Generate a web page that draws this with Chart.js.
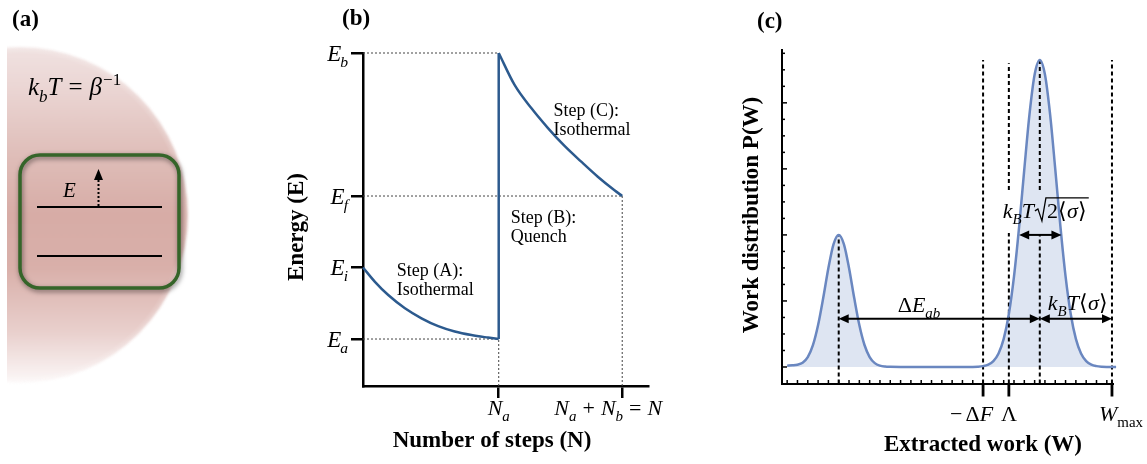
<!DOCTYPE html>
<html><head><meta charset="utf-8">
<script src="https://cdn.jsdelivr.net/npm/chart.js@4.4.1/dist/chart.umd.min.js"></script>
<style>
html,body{margin:0;padding:0;background:#fff;}
#wrap{position:relative;width:1147px;height:464px;overflow:hidden;background:#fff;}
canvas{position:absolute;left:0;top:0;}
</style></head><body>
<div id="wrap">
<canvas id="ca" width="1147" height="464"></canvas>
<canvas id="cb" width="1147" height="464"></canvas>
<canvas id="cc" width="1147" height="464"></canvas>
</div>
<script>
// ---------- Panel (b) data ----------
const stepAx = [0, 0.088, 0.186, 0.309, 0.431, 0.554, 0.676, 0.799, 0.921, 1.0];
const stepAy = [2.0, 1.80, 1.615, 1.43, 1.29, 1.18, 1.105, 1.055, 1.02, 1.0];
const stepCx = [1.0, 1.118, 1.240, 1.363, 1.485, 1.608, 1.730, 1.853, 1.91];
const stepCy = [5.0, 4.55, 4.23, 3.95, 3.70, 3.48, 3.27, 3.08, 3.0];
const energyTickVals = [1, 2, 3, 5];
const energyTickSubs = ['a', 'i', 'f', 'b'];
const stepTickVals = [1, 1.91];
const energyMin = 0.343, energyMax = 5, stepMax = 2.1;

// ---------- Panel (c) data ----------
const workX = [0,0.5,1,1.5,2,2.5,3,3.5,4,4.5,5,5.5,6,6.5,7,7.5,8,8.5,9,9.5,10,
  11,12,13,14,15,16,17,
  18,18.5,19,19.5,20,20.5,21,21.5,22,22.5,23,23.5,24,24.5,25,25.5,26,26.5,27,27.5,28,28.5,29,29.5,30,30.5,31,31.9];
const workP = [0.02,0.025,0.035,0.065,0.15,0.33,0.635,1.048,1.5,1.862,2.0,1.862,1.5,1.048,0.635,0.333,0.151,0.059,0.02,0.006,0.002,
  0,0,0,0,0,0,0,
  0.001,0.004,0.013,0.035,0.089,0.204,0.425,0.802,1.372,2.129,2.997,3.825,4.429,4.65,4.429,3.825,2.997,2.129,1.372,0.802,0.425,0.204,0.089,0.035,0.013,0.004,0.001,0];
const dashX    = [5,     19,    21.5,  21.5, 24.5,  24.5, 31.5];
const dashFrom = [-0.25, -0.25, -0.25, 2.68, -0.25, 2.68, -0.25];
const dashTo   = [2.0,   4.65,  2.03,  4.6,  2.0,   4.65, 4.65];
const majorWorkTicks = [19, 21.5, 31.5];
const arrowX0 = [5, 24.5, 22.5];
const arrowX1 = [24.5, 31.5, 26.6];
const arrowY  = [0.73, 0.73, 2.0];
const workMin = -0.5, workMax = 31.6, pMin = -0.25, pMax = 4.8;

// ---------- helpers ----------
const FAM = '"Liberation Serif","Times New Roman",Times,serif';
function rich(ctx, segs, x, y, size, align) {
  const items = segs.map(s => {
    const small = s.sub || s.sup;
    const sz = small ? size * 0.68 : size;
    const font = (s.it ? 'italic ' : '') + (s.b ? 'bold ' : '') + sz + 'px ' + FAM;
    ctx.font = font;
    const w = ctx.measureText(s.t).width;
    return { t: s.t, font, w, k: s.k || 0, ka: s.ka || 0, dy: s.sub ? size * 0.28 : (s.sup ? -size * 0.42 : 0) };
  });
  const total = items.reduce((a, i) => a + i.w + i.k + i.ka, 0);
  const left = align === 'center' ? x - total / 2 : (align === 'right' ? x - total : x);
  let cx = left;
  ctx.textAlign = 'left';
  ctx.textBaseline = 'alphabetic';
  items.forEach(i => { ctx.font = i.font; cx += i.k; ctx.fillText(i.t, cx, y + i.dy); cx += i.w + i.ka; });
  return { left, width: total };
}
function rrect(ctx, x, y, w, h, r) {
  ctx.beginPath();
  ctx.moveTo(x + r, y); ctx.lineTo(x + w - r, y); ctx.arcTo(x + w, y, x + w, y + r, r);
  ctx.lineTo(x + w, y + h - r); ctx.arcTo(x + w, y + h, x + w - r, y + h, r);
  ctx.lineTo(x + r, y + h); ctx.arcTo(x, y + h, x, y + h - r, r);
  ctx.lineTo(x, y + r); ctx.arcTo(x, y, x + r, y, r); ctx.closePath();
}
function arrowHead(ctx, tipX, tipY, dir, len, half) {
  ctx.beginPath();
  ctx.moveTo(tipX, tipY);
  ctx.lineTo(tipX - dir * len, tipY - half);
  ctx.lineTo(tipX - dir * len, tipY + half);
  ctx.closePath(); ctx.fill();
}
const baseOpts = {
  responsive: false, animation: false, events: [],
  plugins: { legend: { display: false }, tooltip: { enabled: false } },
  elements: { point: { radius: 0 } }
};

// ---------- Panel (a) ----------
const panelA = {
  id: 'panelA',
  afterDraw(chart) {
    const ctx = chart.ctx;
    ctx.save();
    ctx.beginPath(); ctx.rect(7, 0, 400, 464); ctx.clip();
    const cx = 20, cy = 215, r = 168;
    const g = ctx.createLinearGradient(0, cy - r, 0, cy + r);
    g.addColorStop(0, 'rgb(240,226,225)');
    g.addColorStop(0.12, 'rgb(235,214,212)');
    g.addColorStop(0.32, 'rgb(223,190,185)');
    g.addColorStop(0.5, 'rgb(215,172,166)');
    g.addColorStop(0.66, 'rgb(217,176,170)');
    g.addColorStop(0.85, 'rgb(233,208,205)');
    g.addColorStop(1, 'rgb(252,248,248)');
    ctx.filter = 'blur(1px)';
    ctx.fillStyle = g;
    ctx.beginPath(); ctx.arc(cx, cy, r, 0, Math.PI * 2); ctx.fill();
    ctx.filter = 'none';
    const rg = ctx.createRadialGradient(cx, cy, r * 0.96, cx, cy, r + 1);
    rg.addColorStop(0, 'rgba(255,255,255,0)');
    rg.addColorStop(1, 'rgba(255,255,255,0.3)');
    ctx.fillStyle = rg;
    ctx.beginPath(); ctx.arc(cx, cy, r + 1, 0, Math.PI * 2); ctx.fill();
    ctx.restore();

    ctx.save();
    ctx.shadowColor = 'rgba(0,0,0,0.5)'; ctx.shadowBlur = 5; ctx.shadowOffsetX = 1; ctx.shadowOffsetY = 2;
    ctx.strokeStyle = '#356529'; ctx.lineWidth = 3.5;
    rrect(ctx, 20, 155, 159, 133, 20); ctx.stroke();
    ctx.restore();

    ctx.save();
    ctx.strokeStyle = '#000'; ctx.lineWidth = 2;
    ctx.beginPath(); ctx.moveTo(37, 207); ctx.lineTo(162, 207); ctx.stroke();
    ctx.beginPath(); ctx.moveTo(37, 256); ctx.lineTo(162, 256); ctx.stroke();
    ctx.setLineDash([2, 2]);
    ctx.beginPath(); ctx.moveTo(98.5, 206); ctx.lineTo(98.5, 179); ctx.stroke();
    ctx.setLineDash([]);
    ctx.fillStyle = '#000';
    ctx.beginPath(); ctx.moveTo(98.5, 169); ctx.lineTo(94, 180); ctx.lineTo(103, 180); ctx.closePath(); ctx.fill();
    rich(ctx, [{ t: 'E', it: 1 }], 63, 197, 21, 'left');
    rich(ctx, [{ t: 'k', it: 1 }, { t: 'b', it: 1, sub: 1 }, { t: 'T', it: 1 }, { t: '=', k: 7, ka: 7 }, { t: 'β', it: 1 }, { t: '−1', sup: 1, k: 1 }], 28, 95, 25, 'left');
    ctx.font = 'bold 23px ' + FAM; ctx.textAlign = 'left';
    ctx.fillText('(a)', 12, 26);
    ctx.restore();
  }
};
new Chart(document.getElementById('ca'), {
  type: 'scatter', data: { datasets: [] },
  options: Object.assign({}, baseOpts, { scales: { x: { display: false }, y: { display: false } } }),
  plugins: [panelA]
});

// ---------- Panel (b) ----------
const blue = '#2c5a8e';
const Na = stepTickVals[0], Nend = stepTickVals[1];
const Ea = energyTickVals[0], Ef = energyTickVals[2], Eb = energyTickVals[3];
const guideSegs = [
  [[0, Eb], [Na, Eb]],
  [[0, Ef], [Nend, Ef]],
  [[0, Ea], [Na, Ea]],
  [[Na, energyMin], [Na, Ea]],
  [[Nend, energyMin], [Nend, Ef]]
];
const bDatasets = [
  { data: stepAx.map((x, i) => ({ x, y: stepAy[i] })), borderColor: blue, borderWidth: 2.5, showLine: true, cubicInterpolationMode: 'monotone', clip: false },
  { data: [{ x: Na, y: Ea }, { x: Na, y: Eb }], borderColor: blue, borderWidth: 2.5, showLine: true, clip: false },
  { data: stepCx.map((x, i) => ({ x, y: stepCy[i] })), borderColor: blue, borderWidth: 2.5, showLine: true, cubicInterpolationMode: 'monotone', clip: false }
].concat(guideSegs.map(s => ({
  data: s.map(p => ({ x: p[0], y: p[1] })), borderColor: '#444', borderWidth: 1, borderDash: [2, 2], showLine: true, clip: false
})));
const panelB = {
  id: 'panelB',
  afterDraw(chart) {
    const { ctx, scales: { x, y }, chartArea: ca } = chart;
    ctx.save(); ctx.fillStyle = '#000';
    energyTickVals.forEach((v, i) => {
      const py = y.getPixelForValue(v);
      rich(ctx, [{ t: 'E', it: 1 }, { t: energyTickSubs[i], it: 1, sub: 1, k: -1 }], ca.left - 15, py + 7.5, 23, 'right');
    });
    rich(ctx, [{ t: 'N', it: 1 }, { t: 'a', it: 1, sub: 1 }], x.getPixelForValue(Na), 415, 22, 'center');
    rich(ctx, [{ t: 'N', it: 1 }, { t: 'a', it: 1, sub: 1 }, { t: '+', k: 6, ka: 6 }, { t: 'N', it: 1 }, { t: 'b', it: 1, sub: 1 }, { t: '=', k: 6, ka: 6 }, { t: 'N', it: 1 }],
      x.getPixelForValue(Nend) - 14, 415, 22, 'center');
    ctx.font = '18px ' + FAM; ctx.textAlign = 'left'; ctx.textBaseline = 'alphabetic';
    const lab = (lines, xv, yv) => {
      const px = x.getPixelForValue(xv), py = y.getPixelForValue(yv);
      lines.forEach((l, i) => ctx.fillText(l, px, py + i * 19));
    };
    lab(['Step (A):', 'Isothermal'], 0.248, 1.88);
    lab(['Step (B):', 'Quench'], 1.088, 2.62);
    lab(['Step (C):', 'Isothermal'], 1.404, 4.12);
    ctx.font = 'bold 23px ' + FAM; ctx.textAlign = 'center';
    ctx.fillText('Number of steps (N)', 492, 447);
    ctx.save(); ctx.translate(303, 227); ctx.rotate(-Math.PI / 2); ctx.fillText('Energy (E)', 0, 0); ctx.restore();
    ctx.textAlign = 'left';
    ctx.fillText('(b)', 342, 25);
    ctx.restore();
  }
};
new Chart(document.getElementById('cb'), {
  type: 'scatter',
  data: { datasets: bDatasets },
  options: Object.assign({}, baseOpts, {
    layout: { padding: { left: 351, right: 499, top: 53, bottom: 66 } },
    scales: {
      x: {
        type: 'linear', min: 0, max: stepMax,
        afterBuildTicks: s => { s.ticks = stepTickVals.map(v => ({ value: v })); },
        afterFit: s => { s.height = 12; },
        ticks: { display: false },
        grid: { display: true, drawOnChartArea: false, drawTicks: true, tickLength: 12, lineWidth: 2.5, color: '#000' },
        border: { display: true, color: '#000', width: 2.5 }
      },
      y: {
        type: 'linear', min: energyMin, max: energyMax,
        afterBuildTicks: s => { s.ticks = energyTickVals.map(v => ({ value: v })); },
        afterFit: s => { s.width = 12; },
        ticks: { display: false },
        grid: { display: true, drawOnChartArea: false, drawTicks: true, tickLength: 12, lineWidth: 2.5, color: '#000' },
        border: { display: true, color: '#000', width: 2.5 }
      }
    }
  }),
  plugins: [panelB]
});

// ---------- Panel (c) ----------
const cDatasets = [
  { data: workX.map((x, i) => ({ x, y: workP[i] })), borderColor: '#6a87c0', borderWidth: 2.5, showLine: true,
    cubicInterpolationMode: 'monotone', fill: 'origin', backgroundColor: 'rgba(190,204,230,0.5)', clip: false }
].concat(dashX.map((x, i) => ({
  data: [{ x, y: dashFrom[i] }, { x, y: dashTo[i] }], borderColor: '#000', borderWidth: 2, borderDash: [4, 3], showLine: true, clip: false
})));
const panelC = {
  id: 'panelC',
  afterDraw(chart) {
    const { ctx, scales: { x, y }, chartArea: ca } = chart;
    ctx.save();
    ctx.strokeStyle = '#000'; ctx.fillStyle = '#000';
    ctx.lineWidth = 1.5;
    x.ticks.forEach(t => {
      const px = x.getPixelForValue(t.value);
      ctx.beginPath(); ctx.moveTo(px, ca.bottom); ctx.lineTo(px, ca.bottom - 3.5); ctx.stroke();
    });
    y.ticks.forEach(t => {
      const py = y.getPixelForValue(t.value);
      const major = Math.abs(t.value - Math.round(t.value)) < 1e-6;
      ctx.beginPath(); ctx.moveTo(ca.left, py); ctx.lineTo(ca.left + (major ? 5 : 3), py); ctx.stroke();
    });
    ctx.lineWidth = 2.8;
    majorWorkTicks.forEach(v => {
      const px = x.getPixelForValue(v);
      ctx.beginPath(); ctx.moveTo(px, ca.bottom); ctx.lineTo(px, ca.bottom + 13); ctx.stroke();
    });
    ctx.lineWidth = 2;
    arrowX0.forEach((v, i) => {
      const x0 = x.getPixelForValue(v), x1 = x.getPixelForValue(arrowX1[i]), py = y.getPixelForValue(arrowY[i]);
      const L = 10, H = 4.5;
      ctx.beginPath(); ctx.moveTo(x0 + L - 1, py); ctx.lineTo(x1 - L + 1, py); ctx.stroke();
      arrowHead(ctx, x0, py, -1, L, H);
      arrowHead(ctx, x1, py, 1, L, H);
    });
    const base = 421;
    rich(ctx, [{ t: '−' }, { t: 'Δ', k: 3 }, { t: 'F', it: 1 }], x.getPixelForValue(majorWorkTicks[0]) + 10, base, 22, 'right');
    rich(ctx, [{ t: 'Λ' }], x.getPixelForValue(majorWorkTicks[1]), base, 22, 'center');
    rich(ctx, [{ t: 'W', it: 1 }, { t: 'max', sub: 1 }], x.getPixelForValue(majorWorkTicks[2]) - 13, base, 22, 'left');
    const ay = y.getPixelForValue(arrowY[0]);
    rich(ctx, [{ t: 'Δ' }, { t: 'E', it: 1 }, { t: 'ab', it: 1, sub: 1 }], 919, ay - 7, 22, 'center');
    const pk = x.getPixelForValue(arrowX1[0]);
    rich(ctx, [{ t: 'k', it: 1 }, { t: 'B', it: 1, sub: 1 }, { t: 'T', it: 1 }, { t: '⟨' }, { t: 'σ', it: 1 }, { t: '⟩' }], pk + 8, ay - 9, 22, 'left');
    const wy = y.getPixelForValue(arrowY[2]);
    const bl = wy - 17;
    const r1 = rich(ctx, [{ t: 'k', it: 1 }, { t: 'B', it: 1, sub: 1 }, { t: 'T', it: 1 }], pk - 37, bl, 22, 'left');
    const rx = r1.left + r1.width + 1;
    const r2 = rich(ctx, [{ t: '2' }, { t: '⟨' }, { t: 'σ', it: 1 }, { t: '⟩' }], rx + 12, bl, 22, 'left');
    ctx.lineWidth = 1.3;
    ctx.beginPath();
    ctx.moveTo(rx, bl - 7); ctx.lineTo(rx + 3, bl - 9); ctx.lineTo(rx + 7, bl + 3); ctx.lineTo(rx + 11, bl - 20);
    ctx.lineTo(r2.left + r2.width + 2, bl - 20); ctx.stroke();
    ctx.font = 'bold 23px ' + FAM; ctx.textAlign = 'center'; ctx.textBaseline = 'alphabetic';
    ctx.fillText('Extracted work (W)', 983, 451);
    ctx.save(); ctx.translate(758, 215); ctx.rotate(-Math.PI / 2); ctx.fillText('Work distribution P(W)', 0, 0); ctx.restore();
    ctx.textAlign = 'left';
    ctx.fillText('(c)', 757, 28);
    ctx.restore();
  }
};
new Chart(document.getElementById('cc'), {
  type: 'scatter',
  data: { datasets: cDatasets },
  options: Object.assign({}, baseOpts, {
    layout: { padding: { left: 782, right: 34, top: 50, bottom: 80.5 } },
    plugins: { legend: { display: false }, tooltip: { enabled: false }, filler: { drawTime: 'beforeDatasetsDraw' } },
    scales: {
      x: {
        type: 'linear', min: workMin, max: workMax,
        afterBuildTicks: s => { const t = []; for (let v = 0; v <= 31; v++) t.push({ value: v }); s.ticks = t; },
        afterFit: s => { s.height = 0; },
        ticks: { display: false },
        grid: { display: false },
        border: { display: true, color: '#000', width: 2 }
      },
      y: {
        type: 'linear', min: pMin, max: pMax,
        afterBuildTicks: s => { const t = []; for (let k = 0; k <= 19; k++) t.push({ value: k * 0.25 }); s.ticks = t; },
        afterFit: s => { s.width = 0; },
        ticks: { display: false },
        grid: { display: false },
        border: { display: true, color: '#000', width: 2 }
      }
    }
  }),
  plugins: [panelC]
});
</script>
</body></html>
